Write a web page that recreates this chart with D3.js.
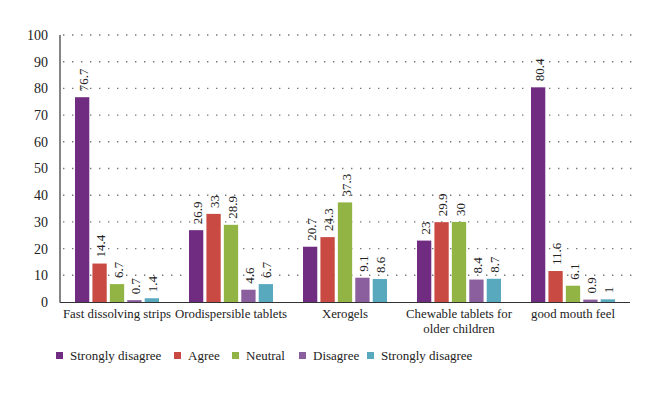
<!DOCTYPE html>
<html><head><meta charset="utf-8">
<script src="https://cdn.jsdelivr.net/npm/d3@7"></script>
<style>body{margin:0;background:#fff}svg{display:block}</style>
</head><body><div id="chart"></div>
<script>
const categories = ["Fast dissolving strips", "Orodispersible tablets", "Xerogels", "Chewable tablets for older children", "good mouth feel"];
const categoryLines = [["Fast dissolving strips"], ["Orodispersible tablets"], ["Xerogels"], ["Chewable tablets for", "older children"], ["good mouth feel"]];
const seriesNames = ["Strongly disagree", "Agree", "Neutral", "Disagree", "Strongly disagree"];
const seriesColors = ["#6f2c80", "#c84a43", "#92b444", "#8b5e9d", "#58a8be"];
const stronglyDisagreeA = [76.7, 26.9, 20.7, 23, 80.4];
const agree = [14.4, 33, 24.3, 29.9, 11.6];
const neutral = [6.7, 28.9, 37.3, 30, 6.1];
const disagree = [0.7, 4.6, 9.1, 8.4, 0.9];
const stronglyDisagreeB = [1.4, 6.7, 8.6, 8.7, 1];
const yTicks = [0, 10, 20, 30, 40, 50, 60, 70, 80, 90, 100];

const seriesValues = [stronglyDisagreeA, agree, neutral, disagree, stronglyDisagreeB];
const W = 660, H = 394;
const FONT = "'Liberation Serif', 'DejaVu Serif', serif";
const svg = d3.select("#chart").append("svg").attr("width", W).attr("height", H)
  .attr("font-family", FONT).style("font-family", FONT);
const pL = 60, pR = 630, pT = 35, pB = 302;
const y = d3.scaleLinear().domain([0, 100]).range([pB, pT]);
const x0 = d3.scaleBand().domain(d3.range(categories.length)).range([pL, pR]).paddingInner(0.263).paddingOuter(0.1315);
const x1 = d3.scaleBand().domain(d3.range(seriesNames.length)).range([0, x0.bandwidth()]).paddingInner(0.18).paddingOuter(0);

// grid
svg.append("g").selectAll("line").data(yTicks.filter(d => d > 0)).join("line")
  .attr("x1", pL + 3).attr("x2", pR + 2).attr("y1", d => y(d)).attr("y2", d => y(d))
  .attr("stroke", "#777").attr("stroke-width", 1.4).attr("stroke-dasharray", "1.4,7.6");

// y axis labels
svg.append("g").selectAll("text").data(yTicks).join("text")
  .attr("x", 48).attr("y", d => y(d)).attr("dy", "0.35em").attr("text-anchor", "end")
  .attr("fill", "#222").style("font-size", "14px").text(d => d);

// bars
const groups = svg.append("g").selectAll("g").data(categories).join("g")
  .attr("transform", (d, i) => `translate(${x0(i)},0)`);
groups.each(function(c, ci) {
  const g = d3.select(this);
  seriesValues.forEach((vals, si) => {
    const v = vals[ci];
    g.append("rect").attr("x", x1(si)).attr("width", x1.bandwidth())
      .attr("y", y(v)).attr("height", y(0) - y(v)).attr("fill", seriesColors[si]);
    g.append("text")
      .attr("transform", `translate(${x1(si) + x1.bandwidth() / 2 + 1},${y(v) - 6}) rotate(-90)`)
      .attr("dy", "0.35em").attr("text-anchor", "start").attr("fill", "#222").style("font-size", "13px").text(String(v));
  });
});

// axes lines
svg.append("line").attr("x1", pL).attr("x2", pL).attr("y1", pT).attr("y2", pB + 0.5).attr("stroke", "#333").attr("stroke-width", 1.2);
svg.append("line").attr("x1", pL).attr("x2", pR).attr("y1", pB + 0.5).attr("y2", pB + 0.5).attr("stroke", "#333").attr("stroke-width", 1.2);

// x labels
categoryLines.forEach((lines, i) => {
  const cx = x0(i) + x0.bandwidth() / 2;
  const t = svg.append("text").attr("x", cx).attr("y", 318).attr("text-anchor", "middle").attr("fill", "#222").style("font-size", "12.8px");
  lines.forEach((l, k) => t.append("tspan").attr("x", cx).attr("dy", k === 0 ? 0 : 15).text(l));
});

// legend
const legX = [56, 174, 232, 299, 367];
const leg = svg.append("g").selectAll("g").data(seriesNames).join("g").attr("transform", (d, i) => `translate(${legX[i]},355)`);
leg.append("rect").attr("x", 0).attr("y", -3).attr("width", 7).attr("height", 7).attr("fill", (d, i) => seriesColors[i]);
leg.append("text").attr("x", 14).attr("y", 0).attr("dy", "0.35em").attr("fill", "#222").style("font-size", "13px").text(d => d);
</script></body></html>
